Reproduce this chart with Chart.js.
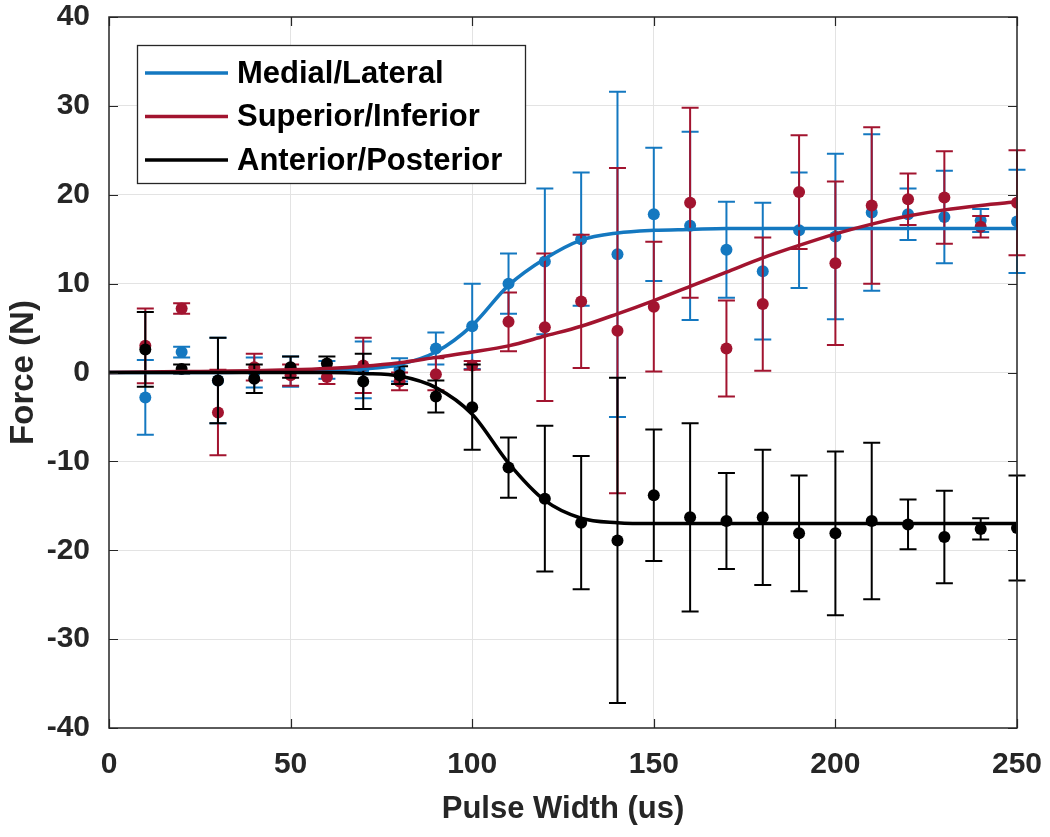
<!DOCTYPE html>
<html>
<head>
<meta charset="utf-8">
<script src="https://cdn.jsdelivr.net/npm/chart.js@4.4.0/dist/chart.umd.min.js"></script>
<style>
html,body{margin:0;padding:0;background:#ffffff;}
#wrap{width:1050px;height:837px;position:relative;}
</style>
</head>
<body>
<div id="wrap"><canvas id="c" width="1050" height="837"></canvas></div>
<script>
// ---- Data ----
const pulseWidths = [10,20,30,40,50,60,70,80,90,100,110,120,130,140,150,160,170,180,190,200,210,220,230,240,250];

const mlMean = [-2.8, 2.3, -0.9, 0.0, 0.1, 0.3, 0.3, 0.3, 2.7, 5.2, 10.0, 12.5, 15.0, 13.3, 17.8, 16.5, 13.8, 11.4, 16.0, 15.3, 18.0, 17.8, 17.5, 17.1, 17.0];
const mlErr  = [4.2, 0.6, 4.8, 1.7, 1.7, 1.0, 3.2, 1.3, 1.8, 4.8, 3.4, 8.2, 7.5, 18.3, 7.5, 10.6, 5.4, 7.7, 6.5, 9.3, 8.8, 2.9, 5.2, 1.3, 5.8];

const siMean = [3.0, 7.2, -4.5, 0.6, -0.3, -0.5, 0.8, -1.0, -0.2, 0.8, 5.7, 5.1, 8.0, 4.7, 7.4, 19.1, 2.7, 7.7, 20.3, 12.3, 18.8, 19.5, 19.7, 16.4, 19.1];
const siErr  = [4.2, 0.6, 4.8, 1.5, 1.2, 0.8, 3.1, 1.0, 1.8, 0.5, 3.3, 8.3, 7.5, 18.3, 7.3, 10.7, 5.4, 7.5, 6.4, 9.2, 8.8, 2.9, 5.2, 1.2, 5.9];

const apMean = [2.6, 0.4, -0.9, -0.7, 0.6, 1.0, -1.0, -0.3, -2.7, -3.9, -10.7, -14.2, -16.9, -18.9, -13.8, -16.3, -16.7, -16.3, -18.1, -18.1, -16.7, -17.1, -18.5, -17.6, -17.5];
const apErr  = [4.2, 0.5, 4.8, 1.6, 1.2, 0.8, 3.1, 1.0, 1.8, 4.8, 3.4, 8.2, 7.5, 18.3, 7.4, 10.6, 5.4, 7.6, 6.5, 9.2, 8.8, 2.8, 5.2, 1.2, 5.9];

// fitted curves
const fitX  = [0,10,20,30,40,50,60,70,80,90,100,110,120,130,140,150,160,170,180,190,200,210,220,230,240,250];
const mlFit = [0,0,0,0,0.05,0.1,0.2,0.4,0.9,2.3,5.3,9.8,12.8,14.9,15.7,16.0,16.1,16.2,16.2,16.2,16.2,16.2,16.2,16.2,16.2,16.2];
const siFit = [0,0.05,0.1,0.15,0.2,0.3,0.45,0.7,1.1,1.7,2.3,3.0,4.1,5.2,6.6,8.1,9.7,11.3,12.9,14.3,15.6,16.7,17.6,18.3,18.8,19.2];
const apFit = [0,0,0,0,0,0,0,-0.1,-0.4,-1.7,-4.7,-10.2,-14.4,-16.4,-16.9,-17.0,-17.0,-17.0,-17.0,-17.0,-17.0,-17.0,-17.0,-17.0,-17.0,-17.0];

const xTicks = [0,50,100,150,200,250];
const yTicks = [-40,-30,-20,-10,0,10,20,30,40];
const seriesNames = ['Medial/Lateral','Superior/Inferior','Anterior/Posterior'];
const xTitle = 'Pulse Width (us)';
const yTitle = 'Force (N)';

// ---- Styles ----
const BLUE = '#1478c0';
const RED = '#a2142f';
const BLACK = '#000000';
const AXIS = '#262626';
const GRID = '#e3e3e3';
const FONT = '"Liberation Sans", Arial, sans-serif';

const toXY = (xs, ys) => xs.map((x,i)=>({x:x, y:ys[i]}));

const errorBarPlugin = {
  id: 'errbars',
  beforeDatasetDraw(chart, args) {
    const ds = chart.data.datasets[args.index];
    if (!ds.errors) return;
    const ctx = chart.ctx, xs = chart.scales.x, ys = chart.scales.y;
    ctx.save();
    ctx.strokeStyle = ds.errColor;
    ctx.lineWidth = 2;
    const cap = 8.5;
    ds.data.forEach((p,i)=>{
      const e = ds.errors[i];
      const px = xs.getPixelForValue(p.x);
      const y1 = ys.getPixelForValue(p.y + e);
      const y2 = ys.getPixelForValue(p.y - e);
      ctx.beginPath();
      ctx.moveTo(px, y1); ctx.lineTo(px, y2);
      ctx.moveTo(px-cap, y1); ctx.lineTo(px+cap, y1);
      ctx.moveTo(px-cap, y2); ctx.lineTo(px+cap, y2);
      ctx.stroke();
    });
    ctx.restore();
  }
};

const frameLegendPlugin = {
  id: 'frameLegend',
  afterDraw(chart) {
    const ctx = chart.ctx, a = chart.chartArea, xs = chart.scales.x, ys = chart.scales.y;
    ctx.save();
    // inward tick marks on all four sides
    ctx.strokeStyle = AXIS; ctx.lineWidth = 1.2;
    const tl = 9;
    ctx.beginPath();
    xTicks.forEach(v=>{
      const px = Math.round(xs.getPixelForValue(v))+0.5;
      ctx.moveTo(px, a.bottom); ctx.lineTo(px, a.bottom - tl);
      ctx.moveTo(px, a.top); ctx.lineTo(px, a.top + tl);
    });
    yTicks.forEach(v=>{
      const py = Math.round(ys.getPixelForValue(v))+0.5;
      ctx.moveTo(a.left, py); ctx.lineTo(a.left + tl, py);
      ctx.moveTo(a.right, py); ctx.lineTo(a.right - tl, py);
    });
    ctx.stroke();
    // box
    ctx.lineWidth = 1.5;
    ctx.strokeRect(a.left, a.top, a.right - a.left, a.bottom - a.top);

    // legend
    const lx = a.left + 28, ly = a.top + 28, lw = 388, lh = 138;
    ctx.fillStyle = '#ffffff';
    ctx.fillRect(lx, ly, lw, lh);
    ctx.strokeStyle = AXIS; ctx.lineWidth = 1.3;
    ctx.strokeRect(lx+0.5, ly+0.5, lw, lh);
    const colors = [BLUE, RED, BLACK];
    ctx.font = 'bold 31px ' + FONT;
    ctx.textBaseline = 'middle';
    ctx.textAlign = 'left';
    seriesNames.forEach((name,i)=>{
      const cy = ly + 28 + i*43.5;
      ctx.strokeStyle = colors[i]; ctx.lineWidth = 3.5;
      ctx.beginPath(); ctx.moveTo(lx+8, cy); ctx.lineTo(lx+91, cy); ctx.stroke();
      ctx.fillStyle = '#000000';
      ctx.fillText(name, lx+100, cy+1);
    });
    ctx.restore();
  }
};

const ptsDs = (label, mean, err, color, order) => ({
  label: label, type: 'scatter', data: toXY(pulseWidths, mean), errors: err, errColor: color,
  showLine: false, pointRadius: 6, pointHoverRadius: 6, pointBackgroundColor: color, pointBorderWidth: 0,
  borderColor: color, order: order
});
const fitDs = (label, ys, color, order) => ({
  label: label, type: 'line', data: toXY(fitX, ys), borderColor: color, borderWidth: 3.5,
  pointRadius: 0, cubicInterpolationMode: 'monotone', fill: false, showLine: true, order: order
});

new Chart(document.getElementById('c'), {
  type: 'scatter',
  data: {
    datasets: [
      ptsDs(seriesNames[0]+' data', mlMean, mlErr, BLUE, 6),
      ptsDs(seriesNames[1]+' data', siMean, siErr, RED, 5),
      ptsDs(seriesNames[2]+' data', apMean, apErr, BLACK, 4),
      fitDs(seriesNames[0], mlFit, BLUE, 3),
      fitDs(seriesNames[1], siFit, RED, 2),
      fitDs(seriesNames[2], apFit, BLACK, 1)
    ]
  },
  options: {
    responsive: false, animation: false, devicePixelRatio: 1,
    layout: { padding: { top: 17, right: 33, left: 0, bottom: 0 } },
    plugins: { legend: { display: false }, tooltip: { enabled: false } },
    scales: {
      x: {
        type: 'linear', min: 0, max: 250,
        afterFit: (s)=>{ s.height = 109; s.paddingLeft = 0; s.paddingRight = 0; s.paddingTop = 0; s.paddingBottom = 0; },
        afterBuildTicks: (s)=>{ s.ticks = xTicks.map(v=>({value:v})); },
        grid: { color: (c)=> (c.tick && (c.tick.value===0||c.tick.value===250)) ? 'rgba(0,0,0,0)' : GRID, lineWidth: 1, drawTicks: false },
        border: { display: false },
        ticks: { color: AXIS, padding: 22, font: { family: FONT, size: 30, weight: 'bold', lineHeight: 1 }, maxRotation: 0 },
        title: { display: true, text: xTitle, color: AXIS, font: { family: FONT, size: 31, weight: 'bold', lineHeight: 1.2 }, padding: { top: 0, bottom: 9 } }
      },
      y: {
        type: 'linear', min: -40, max: 40,
        afterFit: (s)=>{ s.width = 109; s.paddingLeft = 0; s.paddingRight = 0; s.paddingTop = 0; s.paddingBottom = 0; },
        afterBuildTicks: (s)=>{ s.ticks = yTicks.map(v=>({value:v})); },
        grid: { color: (c)=> (c.tick && (c.tick.value===-40||c.tick.value===40)) ? 'rgba(0,0,0,0)' : GRID, lineWidth: 1, drawTicks: false },
        border: { display: false },
        ticks: { color: AXIS, padding: 19, font: { family: FONT, size: 30, weight: 'bold', lineHeight: 1 } },
        title: { display: true, text: yTitle, color: AXIS, font: { family: FONT, size: 33, weight: 'bold', lineHeight: 1.2 }, padding: { top: 4, bottom: 0 } }
      }
    }
  },
  plugins: [errorBarPlugin, frameLegendPlugin]
});
</script>
</body>
</html>
